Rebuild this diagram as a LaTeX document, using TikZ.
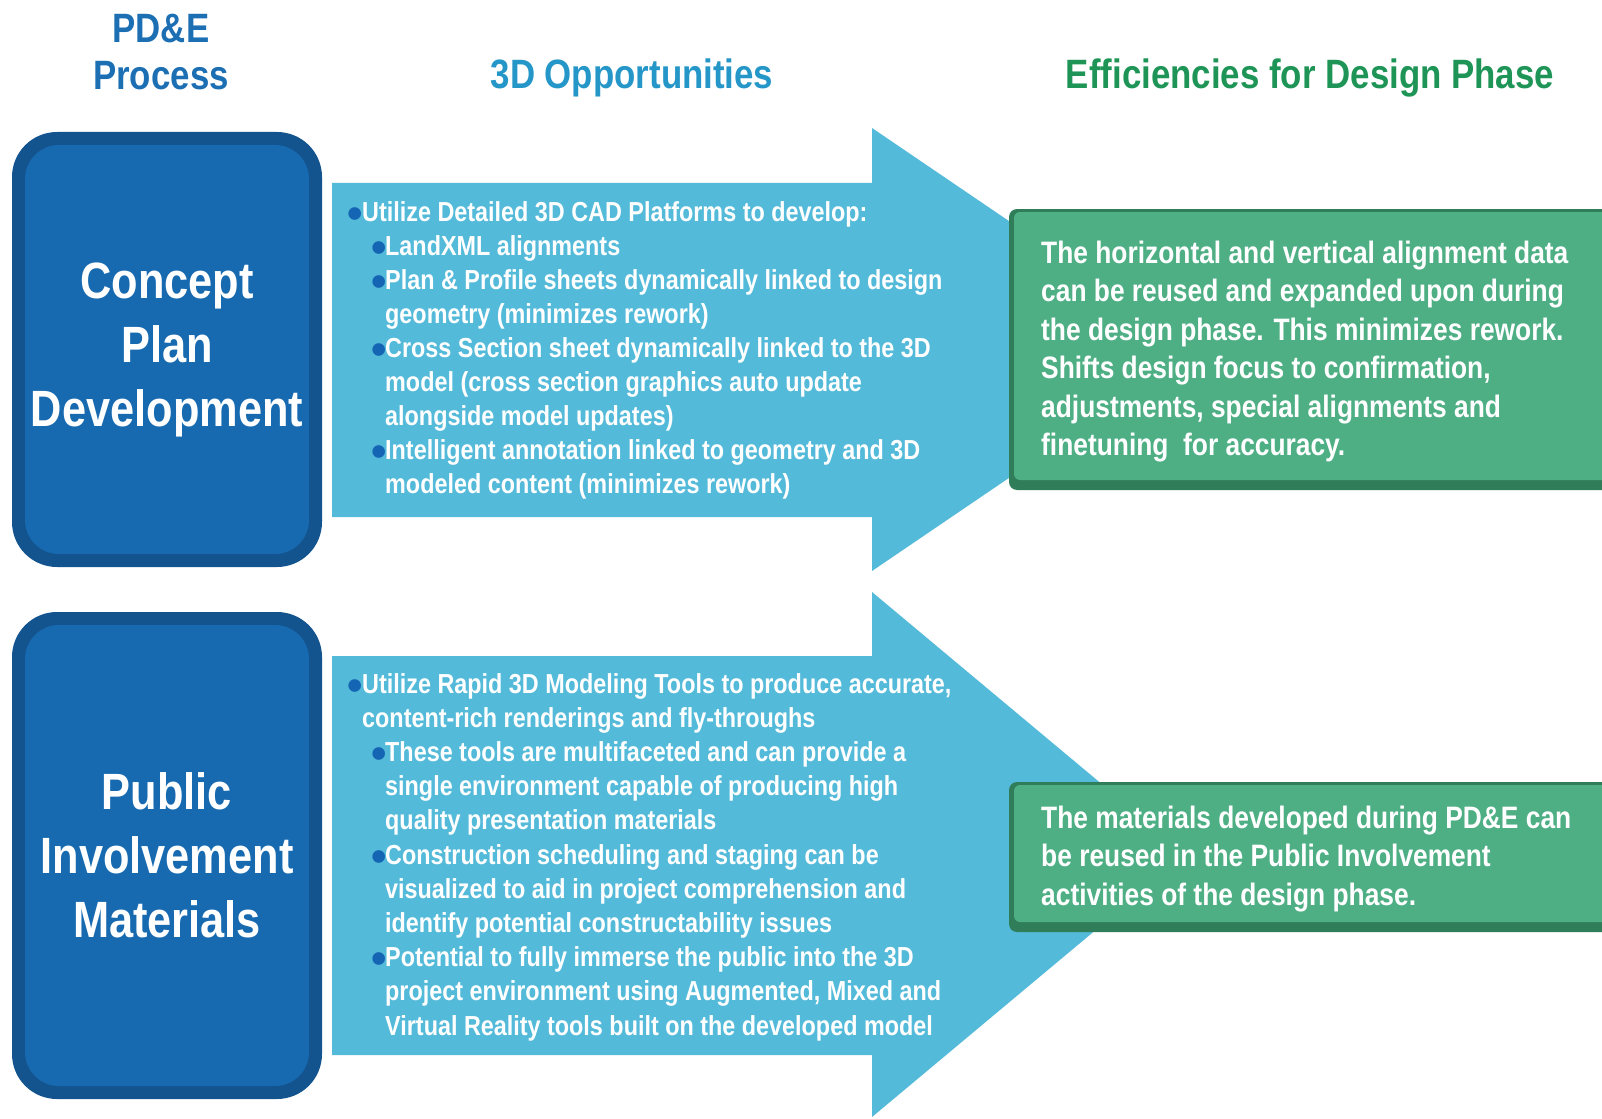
\documentclass[tikz,border=0pt]{standalone}
\usepackage{fontspec}
\setmainfont{Liberation Sans}[FakeStretch=0.85]
\newfontfamily\dotfont{Liberation Sans}
\usetikzlibrary{positioning}

\definecolor{procdark}{HTML}{13538E}
\definecolor{procblue}{HTML}{176AB0}
\definecolor{arrowblue}{HTML}{54BAD9}
\definecolor{effdark}{HTML}{2F7D59}
\definecolor{effgreen}{HTML}{4EAF84}
\definecolor{headblue}{HTML}{1C6FB3}
\definecolor{headcyan}{HTML}{2596C8}
\definecolor{headgreen}{HTML}{1E9556}
\definecolor{bulletblue}{HTML}{1565B5}

\newcommand{\bdot}{\smash{\textcolor{bulletblue}{\raisebox{-7pt}{\scalebox{1.6}{\dotfont\textbullet}}}}}
\newcommand{\bul}{\makebox[15pt][l]{\bdot}}
\newcommand{\subbul}{\hspace*{24pt}\makebox[14pt][l]{\bdot}}
\newcommand{\bulcont}{\hspace*{15pt}}
\newcommand{\subcont}{\hspace*{38pt}}

\begin{document}
\begin{tikzpicture}[x=1pt,y=-1pt,
	heading/.style={inner sep=0,anchor=base,font=\fontsize{41pt}{47pt}\selectfont\bfseries},
	procbox/.style={fill=procdark,rounded corners=45pt,minimum width=310pt,text=white,
		align=center,font=\fontsize{51pt}{64pt}\selectfont\bfseries,
		path picture={\fill[procblue,rounded corners=34pt]
			([shift={(13pt,-13pt)}]path picture bounding box.north west) rectangle
			([shift={(-13pt,13pt)}]path picture bounding box.south east);}},
	effbox/.style={fill=effdark,rounded corners=8pt,minimum width=603pt,
		path picture={\fill[effgreen,rounded corners=6pt]
			([shift={(5pt,-3pt)}]path picture bounding box.north west) rectangle
			([shift={(0pt,10pt)}]path picture bounding box.south east);}},
	opptext/.style={inner sep=0,anchor=base west,text=white,font=\fontsize{27.5pt}{34pt}\selectfont\bfseries},
	efftext/.style={inner sep=0,anchor=base west,text=white,font=\fontsize{31pt}{38.5pt}\selectfont\bfseries}]
\useasboundingbox (0,0) rectangle (1602,1118);
\clip (0,0) rectangle (1602,1118);

\node[heading,text=headblue] (hproc) at (161,43) {\parbox[t]{200pt}{\centering PD\&E\\Process}};
\node[heading,text=headcyan] (hopp) at (632,89) {3D Opportunities};
\node[heading,text=headgreen] (heff) at (1310,89) {Efficiencies for Design Phase};

\node[procbox,minimum height=435pt] (cpd) at (167,349.5) {Concept\\Plan\\Development};
\node[procbox,minimum height=487pt] (pim) at (167,855.5) {Public\\Involvement\\Materials};

\fill[arrowblue] (332,183) -- (872,183) -- (872,128) -- (1198,349.5)
	-- (872,571) -- (872,517) -- (332,517) -- cycle;
\fill[arrowblue] (332,656) -- (872,656) -- (872,592) -- (1186,854.5)
	-- (872,1117) -- (872,1055) -- (332,1055) -- cycle;

\node[effbox,minimum height=281pt] (cpdeff) at (1310.5,349.5) {};
\node[effbox,minimum height=150pt] (pimeff) at (1310.5,857) {};

\node[opptext] (cpdopp) at (347,221) {\parbox[t]{640pt}{%
\bul Utilize Detailed 3D CAD Platforms to develop:\\
\subbul LandXML alignments\\
\subbul Plan \& Profile sheets dynamically linked to design\\
\subcont geometry (minimizes rework)\\
\subbul Cross Section sheet dynamically linked to the 3D\\
\subcont model (cross section graphics auto update\\
\subcont alongside model updates)\\
\subbul Intelligent annotation linked to geometry and 3D\\
\subcont modeled content (minimizes rework)}};

\node[opptext,font=\fontsize{27.5pt}{34.2pt}\selectfont\bfseries] (pimopp) at (347,693) {\parbox[t]{640pt}{%
\bul Utilize Rapid 3D Modeling Tools to produce accurate,\\
\bulcont content-rich renderings and fly-throughs\\
\subbul These tools are multifaceted and can provide a\\
\subcont single environment capable of producing high\\
\subcont quality presentation materials\\
\subbul Construction scheduling and staging can be\\
\subcont visualized to aid in project comprehension and\\
\subcont identify potential constructability issues\\
\subbul Potential to fully immerse the public into the 3D\\
\subcont project environment using Augmented, Mixed and\\
\subcont Virtual Reality tools built on the developed model}};

\node[efftext] (cpdefftext) at (1041,263) {\parbox[t]{560pt}{%
The horizontal and vertical alignment data\\
can be reused and expanded upon during\\
the design phase. This minimizes rework.\\
Shifts design focus to confirmation,\\
adjustments, special alignments and\\
finetuning\ \ for accuracy.}};

\node[efftext] (pimefftext) at (1041,828) {\parbox[t]{560pt}{%
The materials developed during PD\&E can\\
be reused in the Public Involvement\\
activities of the design phase.}};
\end{tikzpicture}
\end{document}
